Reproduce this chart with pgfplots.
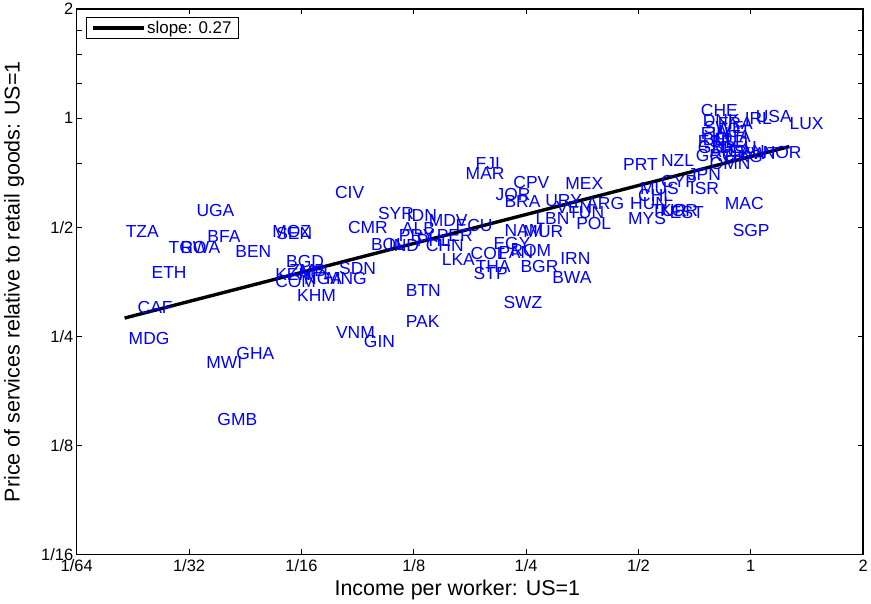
\documentclass[border=0pt]{standalone}
\usepackage{pgfplots}
\pgfplotsset{compat=1.18}
\usepackage{pgfplotstable}
\usepackage{fontspec}
\setmainfont{Liberation Sans}
\setsansfont{Liberation Sans}

% log2 of income per worker (US=1) and log2 of relative price (US=1)
\pgfplotstableread{
lx ly lab
-5.565 -1.066 TZA
-4.935 -0.874 UGA
-4.838 -1.112 BFA
-5.184 -1.212 TGO
-5.077 -1.212 RWA
-4.589 -1.249 BEN
-4.261 -1.066 MOZ
-4.225 -1.084 SEN
-5.335 -1.441 ETH
-5.459 -1.761 CAF
-5.539 -2.044 MDG
-4.847 -2.263 MWI
-4.580 -2.181 GHA
-4.749 -2.784 GMB
-4.137 -1.340 BGD
-4.234 -1.459 KEN
-4.234 -1.523 COM
-4.110 -1.422 ZMB
-4.021 -1.441 NPL
-3.782 -1.495 MNG
-3.977 -1.495 NGA
-4.039 -1.651 KHM
-3.702 -0.709 CIV
-3.587 -1.029 CMR
-3.666 -1.404 SDN
-3.320 -0.901 SYR
-3.063 -0.920 IDN
-3.382 -1.185 BOL
-3.223 -1.194 IND
-3.693 -1.989 VNM
-3.445 -2.071 GIN
-3.072 -1.605 BTN
-3.072 -1.888 PAK
-3.107 -1.038 ALB
-3.134 -1.102 PRY
-2.974 -1.148 PHL
-2.797 -1.102 PER
-2.894 -1.194 CHN
-2.868 -0.965 MDV
-2.628 -1.011 ECU
-2.451 -0.444 FJI
-2.539 -0.527 MAR
-2.114 -0.609 CPV
-2.273 -0.728 JOR
-2.193 -0.792 BRA
-1.652 -0.627 MEX
-1.830 -0.782 URY
-1.732 -0.846 VEN
-1.466 -0.810 ARG
-1.626 -0.892 TUN
-1.918 -0.947 LBN
-1.555 -0.993 POL
-2.193 -1.057 NAM
-2.025 -1.066 MUR
-2.291 -1.175 EGY
-2.495 -1.267 COL
-2.247 -1.258 PAN
-2.140 -1.239 ROM
-2.752 -1.322 LKA
-2.451 -1.386 THA
-2.468 -1.450 STP
-2.051 -1.386 BGR
-1.697 -1.313 IRN
-1.768 -1.486 BWA
-2.202 -1.715 SWZ
-1.093 -0.947 MYS
-1.075 -0.810 HUN
-1.004 -0.737 CHL
-0.987 -0.664 MUS
-0.800 -0.600 CYP
-0.889 -0.874 TUR
-0.809 -0.874 KOR
-0.721 -0.892 EST
-1.138 -0.444 PRT
-0.800 -0.408 NZL
-0.543 -0.664 ISR
-0.561 -0.545 JPN
-0.490 -0.362 GRC
-0.366 -0.435 OMN
0.105 -0.335 NOR
0.344 -0.069 LUX
0.043 -0.005 USA
-0.055 -0.024 IRL
-0.445 0.049 CHE
-0.428 -0.042 DNK
-0.419 -0.106 SWE
-0.445 -0.161 FIN
-0.312 -0.143 AUT
-0.428 -0.216 BEL
-0.339 -0.234 NLD
-0.295 -0.069 FRA
-0.277 -0.289 DEU
-0.472 -0.289 GBR
-0.232 -0.188 ITA
-0.206 -0.325 CAN
-0.366 -0.325 AUS
-0.472 -0.234 ESP
-0.099 -0.344 KWT
-0.232 -0.371 HKG
-0.232 -0.810 MAC
-0.162 -1.057 SGP
}\labels

\begin{document}
\begin{tikzpicture}
\begin{axis}[
  at={(0,0)}, anchor=south west,
  scale only axis, width=789pt, height=547pt,
  xmin=-6, xmax=1, ymin=-4, ymax=1,
  xtick={-6,-5,-4,-3,-2,-1,0,1},
  xticklabels={1/64,1/32,1/16,1/8,1/4,1/2,1,2},
  ytick={-4,-3,-2,-1,0,1},
  yticklabels={1/16,1/8,1/4,1/2,1,2},
  minor ytick={-0.415,0.322,0.585,0.807},
  tick align=inside,
  major tick length=5pt, minor tick length=5pt,
  every tick/.style={black, line width=0.8pt},
  axis line style={line width=1.4pt},
  ticklabel style={font=\fontsize{16.5}{16.5}\selectfont},
  xticklabel style={yshift=-2pt},
  /pgf/number format/assume math mode=true,
  xlabel={Income per worker: US=1},
  ylabel={Price of services relative to retail goods: US=1},
  label style={font=\fontsize{21.5}{21.5}\selectfont},
  xlabel style={at={(axis description cs:0.484,-0.066)}, anchor=center},
  ylabel style={at={(axis description cs:-0.0798,0.5)}, anchor=center},
  legend style={at={(axis description cs:0.0114,0.985)}, anchor=north west,
    draw=black, line width=0.8pt, fill=white,
    font=\fontsize{17}{17}\selectfont, inner xsep=5pt, inner ysep=1.5pt},
  legend image code/.code={\draw[black, line width=3.2pt] (0pt,0pt) -- (51pt,0pt);},
]
\addplot[draw=none, mark=none, forget plot,
  nodes near coords, point meta=explicit symbolic,
  every node near coord/.append style={anchor=west, inner sep=0pt, text=blue,
    yshift=2.5pt, font=\fontsize{17.5}{17.5}\selectfont}]
  table[x=lx, y=ly, meta=lab] {\labels};
\addplot[black, line width=3.4pt] coordinates {(-5.574,-1.834) (0.344,-0.261)};
\addlegendentry{slope: 0.27}
\end{axis}
\path (-77pt,-46pt) rectangle (794pt,552pt);
\end{tikzpicture}
\end{document}
